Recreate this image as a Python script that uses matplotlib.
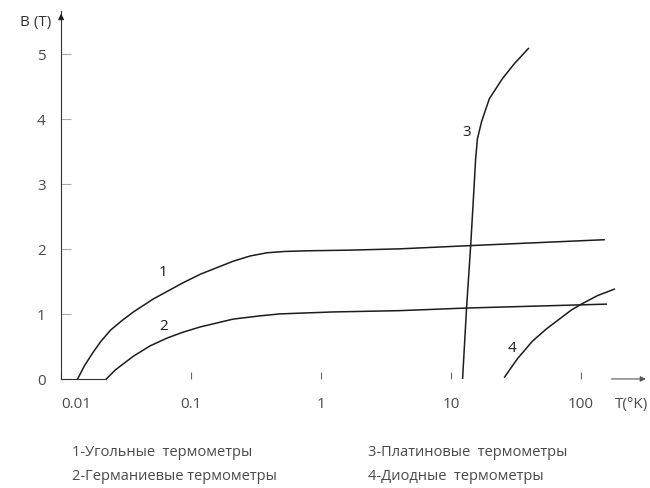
import matplotlib
matplotlib.use("Agg")
import matplotlib.pyplot as plt

# 1 - угольные
t1 = [0.0134, 0.0151, 0.0175, 0.0201, 0.024, 0.0291, 0.036, 0.0513, 0.0871, 0.118,
      0.211, 0.285, 0.385, 0.529, 0.781, 1.67, 4.04, 14.2, 151]
b1 = [0.0, 0.20, 0.40, 0.57, 0.75, 0.89, 1.03, 1.23, 1.48, 1.61,
      1.81, 1.89, 1.94, 1.96, 1.97, 1.98, 2.00, 2.05, 2.14]
# 2 - германиевые
t2 = [0.0223, 0.0262, 0.036, 0.0486, 0.0657, 0.0871, 0.118, 0.211, 0.34, 0.484,
      1.24, 4.04, 13.2, 157]
b2 = [0.0, 0.14, 0.35, 0.51, 0.63, 0.72, 0.80, 0.92, 0.97, 1.00,
      1.03, 1.05, 1.09, 1.15]
# 3 - платиновые
t3 = [12.3, 13.2, 14.2, 14.9, 15.5, 16.0, 17.2, 18.5, 19.8, 25.0, 30.9, 39.5]
b3 = [0.0, 1.09, 2.05, 2.77, 3.38, 3.69, 3.95, 4.14, 4.31, 4.62, 4.85, 5.08]
# 4 - диодные
t4 = [25.9, 32.5, 42.4, 54.4, 68.4, 84.6, 101, 134, 181]
b4 = [0.03, 0.31, 0.58, 0.77, 0.92, 1.06, 1.15, 1.28, 1.38]

xticks = [0.01, 0.1, 1, 10, 100]
xlabels = ["0.01", "0.1", "1", "10", "100"]
yticks = [0, 1, 2, 3, 4, 5]

curve_labels = ["1", "2", "3", "4"]
label_pos = [(0.0612, 1.65), (0.0612, 0.82), (13.2, 3.8), (29.3, 0.49)]

legend_rows = [
    ["1-Угольные  термометры", "3-Платиновые  термометры"],
    ["2-Германиевые термометры", "4-Диодные  термометры"],
]

plt.rcParams["font.family"] = ["Open Sans", "DejaVu Sans"]
txt = "#4a4a4a"
ink = "#1c1c1c"

fig = plt.figure(figsize=(6.5, 4.89), dpi=100)
ax = fig.add_axes([0.094, 0.223, 0.904, 0.753])

for t, b in [(t1, b1), (t2, b2), (t3, b3), (t4, b4)]:
    ax.plot(t, b, color=ink, lw=1.1, solid_joinstyle="round")

for s, (x, y) in zip(curve_labels, label_pos):
    ax.text(x, y, s, fontsize=11, color=ink, ha="center", va="center")

ax.set_xscale("log")
ax.set_xlim(0.01, 333)
ax.set_ylim(0, 5.66)
ax.set_xticks(xticks)
ax.set_xticklabels(xlabels)
ax.xaxis.set_minor_locator(matplotlib.ticker.NullLocator())
ax.set_yticks(yticks)
ax.tick_params(axis="x", direction="in", length=5, width=0.8, colors="#666",
               labelcolor=txt, labelsize=11, pad=12)
ax.tick_params(axis="y", direction="in", length=7, width=0.8, colors="#aaa",
               labelcolor=txt, labelsize=11, pad=11)
ax.get_xticklabels()[0].set_ha("left")

for side in ["top", "right"]:
    ax.spines[side].set_visible(False)
ax.spines["left"].set_color("#333")
ax.spines["bottom"].set_color("#333")
ax.spines["bottom"].set_bounds(0.01, 0.022)

# arrows at axis ends
ax.annotate("", xy=(1.0, 0), xytext=(0.932, 0), xycoords="axes fraction",
            arrowprops=dict(arrowstyle="-|>", color="#555", lw=0.8, mutation_scale=8))
ax.annotate("", xy=(0, 1.0), xytext=(0, 0.97), xycoords="axes fraction",
            arrowprops=dict(arrowstyle="-|>", color="#222", lw=1.0, mutation_scale=8))

fig.text(0.055, 0.953, "B (T)", fontsize=11, color="#333", ha="center", va="center")
fig.text(0.972, 0.173, "T(°K)", fontsize=11, color=txt, ha="center", va="center")

for i, row in enumerate(legend_rows):
    y = 0.074 - i * 0.049
    fig.text(0.111, y, row[0], fontsize=10.5, color=txt, va="center")
    fig.text(0.566, y, row[1], fontsize=10.5, color=txt, va="center")

fig.savefig("out.png", dpi=100)
